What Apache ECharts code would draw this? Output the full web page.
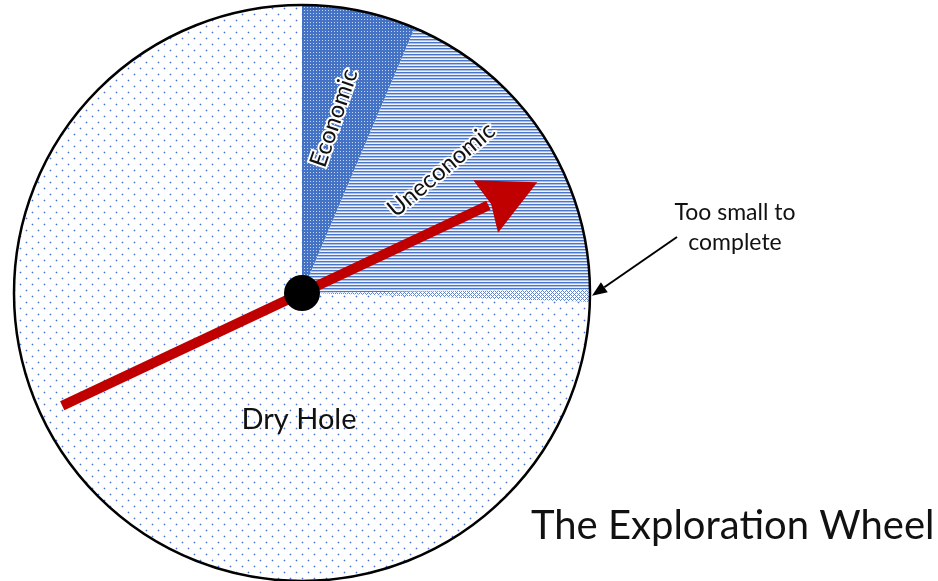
<!DOCTYPE html>
<html>
<head>
<meta charset="utf-8">
<script src="https://cdn.jsdelivr.net/npm/echarts@6/dist/echarts.min.js"></script>
<style>
  html, body { margin: 0; padding: 0; background: #fff; }
  #chart { width: 938px; height: 581px; }
</style>
</head>
<body>
<div id="chart"></div>
<script>
// Wheel outcomes, clockwise from 12 o'clock, share of the wheel (%)
const outcomes = ['Economic', 'Uneconomic', 'Too small to complete', 'Dry Hole'];
const shares = [6.4, 18.4, 0.7, 74.5];
const calloutText = 'Too small to\ncomplete';
const titleText = 'The Exploration Wheel';
// Spinner direction, degrees above horizontal
const spinnerAngle = 25.2;

const FONT = 'Lato';
const CX = 302, CY = 293, R = 288;

// small canvas tiles used as fill patterns
function tile(w, h, draw) {
    const c = document.createElement('canvas');
    c.width = w;
    c.height = h;
    draw(c.getContext('2d'));
    return c;
}
const fills = [
    // blue with light dots
    tile(3, 3, g => {
        g.fillStyle = '#4472c4';
        g.fillRect(0, 0, 3, 3);
        g.fillStyle = '#c4d3f1';
        g.fillRect(1, 1, 1, 1);
    }),
    // horizontal lines
    tile(4, 3, g => {
        g.fillStyle = '#4a76c8';
        g.fillRect(0, 0, 4, 1);
        g.fillStyle = '#aabee7';
        g.fillRect(0, 1, 4, 1);
        g.fillStyle = '#eef2fb';
        g.fillRect(0, 2, 4, 1);
    }),
    // small cross hatch
    tile(4, 4, g => {
        g.fillStyle = '#ffffff';
        g.fillRect(0, 0, 4, 4);
        g.fillStyle = '#5f86d3';
        for (let x = 0; x < 4; x++) {
            for (let y = 0; y < 4; y++) {
                if ((x + y) % 4 === 0 || (x - y + 4) % 4 === 0) g.fillRect(x, y, 1, 1);
            }
        }
    }),
    // sparse staggered dots
    tile(12, 12, g => {
        g.fillStyle = '#ffffff';
        g.fillRect(0, 0, 12, 12);
        [[2, 2], [8, 8]].forEach(([x, y]) => {
            g.fillStyle = '#c6d4f1';
            g.fillRect(x - 1, y, 3, 1);
            g.fillRect(x, y - 1, 1, 3);
            g.fillStyle = '#4a77cd';
            g.fillRect(x, y, 1, 1);
        });
    })
];

// point at distance r along direction a (degrees, counter-clockwise from east)
function polar(r, a) {
    const t = a * Math.PI / 180;
    return [CX + r * Math.cos(t), CY - r * Math.sin(t)];
}

// spinner arrow
const tail = polar(265, spinnerAngle + 180);
const tip = polar(260, spinnerAngle);
const headBase = polar(206, spinnerAngle);
const perp = (spinnerAngle + 90) * Math.PI / 180;
const baseMid = polar(203, spinnerAngle);
const c1 = [baseMid[0] + 29 * Math.cos(perp), baseMid[1] - 29 * Math.sin(perp)];
const c2 = [baseMid[0] - 29 * Math.cos(perp), baseMid[1] + 29 * Math.sin(perp)];
const notch = polar(209, spinnerAngle);

// callout arrow ends on the rim in the middle of the small slice
const beforeSmall = shares[0] + shares[1] + shares[2] / 2;
const smallAngle = 90 - beforeSmall / 100 * 360;
const calloutEnd = polar(R + 2, smallAngle);
const calloutStart = [677, 237];
const cdx = calloutEnd[0] - calloutStart[0], cdy = calloutEnd[1] - calloutStart[1];
const clen = Math.sqrt(cdx * cdx + cdy * cdy);
const ux = cdx / clen, uy = cdy / clen;
const cBack = [calloutEnd[0] - ux * 15, calloutEnd[1] - uy * 15];
const cHead = [
    calloutEnd,
    [cBack[0] - uy * 6, cBack[1] + ux * 6],
    [cBack[0] + uy * 6, cBack[1] - ux * 6]
];

// rotated slice labels (radius, degrees clockwise from 12 o'clock, text rotation)
const labelPlaces = [
    { r: 178, a: 10.4, rot: 71 },
    { r: 186, a: 48.5, rot: 40 }
];

const myChart = echarts.init(document.getElementById('chart'));

const option = {
    animation: false,
    backgroundColor: '#ffffff',
    series: [{
        type: 'pie',
        center: [CX, CY],
        radius: R,
        startAngle: 90,
        clockwise: true,
        silent: true,
        avoidLabelOverlap: false,
        label: { show: false },
        labelLine: { show: false },
        itemStyle: { borderWidth: 0 },
        data: outcomes.map((name, i) => ({
            name: name,
            value: shares[i],
            itemStyle: { color: { image: fills[i], repeat: 'repeat' } }
        }))
    }, {
        // wheel rim
        type: 'pie',
        center: [CX, CY],
        radius: R,
        silent: true,
        label: { show: false },
        labelLine: { show: false },
        itemStyle: { color: 'rgba(0,0,0,0)', borderColor: '#000', borderWidth: 2.5 },
        data: [{ name: 'rim', value: 1 }]
    }],
    graphic: [
        ...labelPlaces.map((p, i) => {
            const pt = polar(p.r, 90 - p.a);
            return {
                type: 'text',
                x: pt[0],
                y: pt[1],
                rotation: p.rot * Math.PI / 180,
                z: 100,
                style: {
                    text: outcomes[i],
                    font: '24px ' + FONT,
                    fill: '#111',
                    stroke: '#fff',
                    lineWidth: 4,
                    align: 'center',
                    verticalAlign: 'middle'
                }
            };
        }),
        {
            type: 'text',
            x: CX - 3,
            y: CY + 127,
            z: 100,
            style: {
                text: outcomes[3],
                font: '29px ' + FONT,
                fill: '#111',
                align: 'center',
                verticalAlign: 'middle'
            }
        },
        {
            type: 'line',
            z: 110,
            shape: { x1: tail[0], y1: tail[1], x2: headBase[0], y2: headBase[1] },
            style: { stroke: '#c00000', lineWidth: 10 }
        },
        {
            type: 'polygon',
            z: 110,
            shape: { points: [tip, c1, notch, c2] },
            style: { fill: '#c00000' }
        },
        {
            type: 'circle',
            z: 120,
            shape: { cx: CX, cy: CY, r: 18 },
            style: { fill: '#000' }
        },
        {
            type: 'line',
            z: 110,
            shape: { x1: calloutStart[0], y1: calloutStart[1], x2: cBack[0], y2: cBack[1] },
            style: { stroke: '#000', lineWidth: 2 }
        },
        {
            type: 'polygon',
            z: 110,
            shape: { points: cHead },
            style: { fill: '#000' }
        },
        {
            type: 'text',
            x: 735,
            y: 228,
            z: 100,
            style: {
                text: calloutText,
                font: '23px ' + FONT,
                fill: '#111',
                lineHeight: 30,
                align: 'center',
                verticalAlign: 'middle'
            }
        },
        {
            type: 'text',
            x: 531,
            y: 526,
            z: 100,
            style: {
                text: titleText,
                font: '40px ' + FONT,
                fill: '#111',
                align: 'left',
                verticalAlign: 'middle'
            }
        }
    ]
};

myChart.setOption(option);
</script>
</body>
</html>
